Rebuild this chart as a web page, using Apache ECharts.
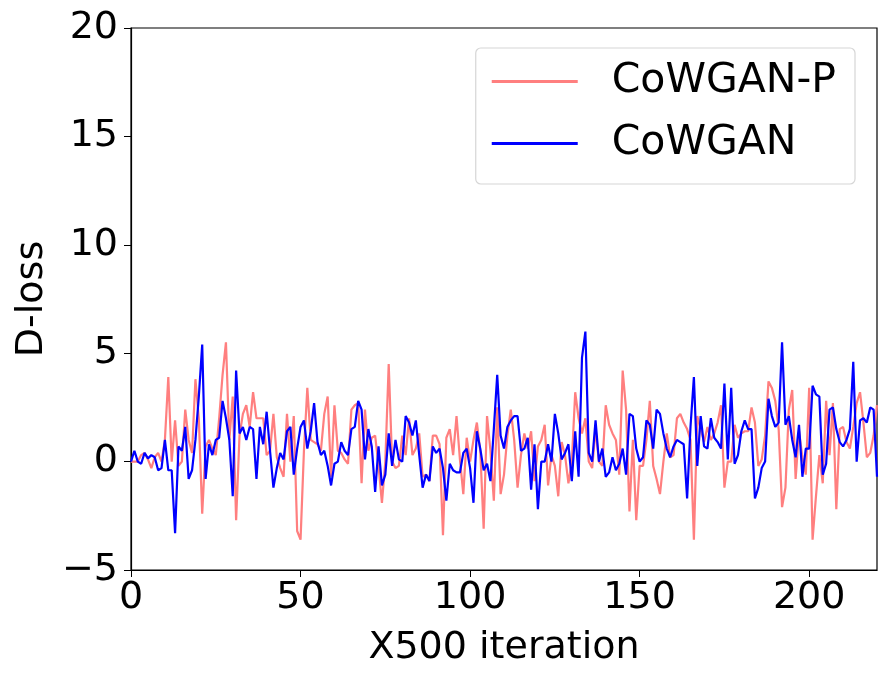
<!DOCTYPE html>
<html>
<head>
<meta charset="utf-8">
<script src="https://cdn.jsdelivr.net/npm/echarts@6/dist/echarts.min.js"></script>
<style>
  html, body { margin: 0; padding: 0; background: #fff; }
  #main { width: 887px; height: 681px; }
</style>
</head>
<body>
<div id="main"></div>
<script>
// values, one per x step (0..220)
const cowganP = [
  0.0, 0.0, 0.0, 0.3, 0.4, 0.1, -0.3, 0.2, 0.4, 0.0,
  1.0, 3.9, 0.0, 1.9, -0.2, 0.0, 2.4, 1.0, 0.4, 3.8,
  2.0, -2.4, 0.7, 1.0, 0.6, 0.3, 2.0, 4.0, 5.5, 1.0,
  3.0, -2.7, 1.2, 2.2, 2.6, 1.6, 3.2, 2.0, 2.0, 2.0,
  0.3, 0.5, 2.2, 0.2, -0.3, -0.7, 2.2, 0.0, 2.1, -3.2,
  -3.6, 0.5, 3.4, 1.0, 0.9, 0.8, 0.5, 2.2, 3.0, -0.7,
  2.6, 0.5, 0.4, 0.1, -0.1, 2.4, 2.6, 2.7, -1.0, 2.4,
  0.5, 1.1, 1.2, -0.2, -1.9, 0.0, 4.5, 0.0, -0.3, -0.2,
  1.2, 0.3, 2.0, 0.3, 0.6, 1.3, -0.7, -0.6, -0.9, 1.2,
  1.2, 0.8, -3.4, 1.1, 1.5, 0.3, 2.1, 0.1, -1.5, 1.1,
  0.0, 1.0, 1.8, 0.5, -3.1, 2.1, 0.5, -1.8, 2.5, -1.5,
  -0.6, 1.2, 2.4, 1.0, -1.2, 0.3, 1.3, 0.6, 1.4, -0.9,
  0.7, 1.0, 1.7, -1.1, 0.3, -0.2, -1.6, 0.9, 0.3, -1.0,
  0.0, 3.2, 2.0, 1.3, 2.0, 0.0, -0.3, 1.5, 0.0, -0.2,
  2.6, 1.7, 1.3, 1.0, -0.6, 4.2, 2.4, -2.3, 1.0, -2.7,
  -0.2, -0.2, 1.0, 2.8, -0.2, -0.8, -1.5, 0.0, 1.3, 0.2,
  0.3, 2.0, 2.2, 1.8, 1.5, 1.0, -3.6, 2.1, 1.5, 0.9,
  1.6, 1.0, 1.3, 1.8, 2.6, -1.2, 0.0, 0.0, 1.7, 1.1,
  1.3, 1.4, 1.4, 2.5, 1.8, -0.2, 0.1, 1.2, 3.7, 3.4,
  2.8, 1.5, -2.1, -1.2, 2.4, 3.3, -0.8, 1.4, 0.2, -0.6,
  3.4, -3.6, -1.6, 0.3, -1.0, 2.8, 0.3, 2.7, -2.2, 1.5,
  1.6, 0.9, 0.6, 1.6, 2.7, 3.2, 1.8, 0.2, 0.4, 1.2,
  2.6
];
const cowgan = [
  0.0, 0.5, 0.0, -0.1, 0.4, 0.15, 0.3, 0.2, -0.4, -0.3,
  1.0, -0.4, -0.4, -3.3, 0.7, 0.5, 1.6, -0.8, -0.4, 1.0,
  3.0, 5.4, -0.8, 0.8, 0.3, 1.0, 1.1, 2.8, 2.0, 1.0,
  -1.6, 4.2, 1.3, 1.6, 1.0, 1.6, 1.5, -0.8, 1.6, 0.8,
  2.3, 0.5, -1.2, -0.3, 0.4, 0.1, 1.4, 1.6, -0.6, 0.6,
  1.6, 1.9, 0.6, 1.4, 2.7, 0.9, 0.3, 0.5, -0.2, -1.1,
  -0.1, 0.0, 0.9, 0.5, 0.3, 1.5, 1.6, 2.8, 2.4, 0.1,
  1.5, 0.7, -1.4, 0.7, -1.1, -0.6, 1.3, -0.2, 1.0, 0.1,
  0.0, 2.1, 1.8, 1.2, 1.9, 0.3, -1.2, -0.6, -0.9, 0.7,
  0.4, 0.6, -0.3, -1.8, -0.1, -0.4, -0.5, -0.5, 0.4, 0.6,
  -0.3, -1.9, 1.4, 0.6, -0.4, -0.1, -0.9, 1.5, 4.0, 1.2,
  0.6, 1.6, 1.9, 2.1, 2.1, 0.5, 0.6, 1.1, -1.3, 0.8,
  -2.2, 0.0, 0.0, 0.8, 0.0, 2.2, 1.3, 0.1, 0.4, 0.8,
  -0.9, 1.4, -0.7, 4.8, 6.0, 0.4, 0.0, 1.9, 0.0, 0.6,
  -0.7, -0.5, 0.2, -0.4, -0.1, 0.6, -0.6, 2.2, 2.1, 0.6,
  0.0, 0.2, 1.9, 1.7, 0.6, 2.4, 2.2, 1.3, 0.6, 0.2,
  0.7, 1.0, 0.9, 0.8, -1.7, 1.6, 3.9, -0.2, 2.1, 0.7,
  0.6, 2.0, 1.1, 0.9, 0.6, 3.6, 0.1, 3.4, -0.1, 0.3,
  1.4, 1.9, 1.5, 1.5, -1.7, -1.2, -0.3, 0.0, 2.9, 2.1,
  1.6, 1.8, 5.5, 1.7, 2.1, 1.0, 0.2, 1.7, -0.7, 0.6,
  0.6, 3.5, 3.1, 3.0, -0.6, -0.1, 2.4, 2.5, 1.5, 0.9,
  0.7, 1.0, 1.5, 4.6, 0.0, 1.9, 2.0, 1.8, 2.5, 2.4,
  -0.7
];
const seriesNames = ['CoWGAN-P', 'CoWGAN'];

let chart = echarts.init(document.getElementById('main'));

const font = 'DejaVu Sans';
const toPairs = arr => arr.map((v, i) => [i, v]);
const minus = v => String(v).replace('-', '\u2212');

let option = {
  animation: false,
  grid: { left: 131, right: 10, top: 28, bottom: 111, show: true, borderColor: '#000', borderWidth: 1.2 },
  legend: {
    right: 32,
    top: 48,
    orient: 'vertical',
    padding: [13, 19, 20, 16],
    itemGap: 21,
    itemWidth: 86,
    itemHeight: 3,
    borderColor: '#d6d6d6',
    borderWidth: 1.2,
    borderRadius: 5,
    textStyle: { fontFamily: font, fontSize: 41, lineHeight: 40, color: '#000', padding: [0, 0, 0, 29] },
    data: [
      { name: seriesNames[0], icon: 'rect', itemStyle: { color: '#ff7f7f' } },
      { name: seriesNames[1], icon: 'rect', itemStyle: { color: '#0000ff' } }
    ]
  },
  xAxis: {
    type: 'value',
    min: 0, max: 220, interval: 50,
    name: 'X500 iteration',
    nameLocation: 'middle',
    nameGap: 59,
    nameTextStyle: { fontFamily: font, fontSize: 38, color: '#000' },
    axisLine: { onZero: false, lineStyle: { color: '#000', width: 1.2 } },
    axisTick: { show: true, inside: false, length: 7, lineStyle: { color: '#000' } },
    axisLabel: { fontFamily: font, fontSize: 38, color: '#000', margin: 9, showMaxLabel: false },
    splitLine: { show: false }
  },
  yAxis: {
    type: 'value',
    min: -5, max: 20, interval: 5,
    name: 'D-loss',
    nameLocation: 'middle',
    nameGap: 80,
    nameTextStyle: { fontFamily: font, fontSize: 38, color: '#000' },
    axisLine: { show: true, onZero: false, lineStyle: { color: '#000', width: 1.2 } },
    axisTick: { show: true, inside: false, length: 7, lineStyle: { color: '#000' } },
    axisLabel: { fontFamily: font, fontSize: 38, color: '#000', margin: 13, formatter: minus },
    splitLine: { show: false }
  },
  series: [
    {
      name: seriesNames[0],
      type: 'line',
      data: toPairs(cowganP),
      symbol: 'none',
      lineStyle: { color: '#ff7f7f', width: 2.2 },
      itemStyle: { color: '#ff7f7f' },
      z: 2
    },
    {
      name: seriesNames[1],
      type: 'line',
      data: toPairs(cowgan),
      symbol: 'none',
      lineStyle: { color: '#0000ff', width: 2.2 },
      itemStyle: { color: '#0000ff' },
      z: 3
    }
  ]
};

option && chart.setOption(option);
</script>
</body>
</html>
